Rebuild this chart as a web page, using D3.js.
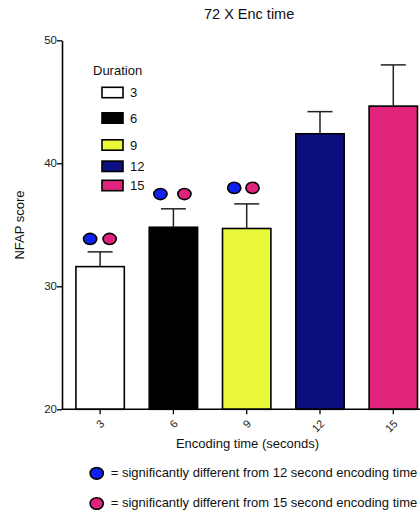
<!DOCTYPE html>
<html>
<head>
<meta charset="utf-8">
<script src="https://cdn.jsdelivr.net/npm/d3@7"></script>
<style>
  html, body { margin: 0; padding: 0; background: #fff; }
  svg { display: block; font-family: "Liberation Sans", Arial, Helvetica, sans-serif; }
</style>
</head>
<body>
<svg id="chart" width="420" height="516"></svg>
<script>
// ---- data ----
const categories = ["3", "6", "9", "12", "15"];
const means = [31.6, 34.8, 34.7, 42.4, 44.65];
const errorTops = [32.8, 36.3, 36.7, 44.2, 48.0];
const barColors = ["#ffffff", "#000000", "#e9f93a", "#0b0f80", "#e0237b"];
const yTicks = [20, 30, 40, 50];
const legendTitle = "Duration";
const sigCategories = ["3", "6", "9"];
const sigMarkerValues = [33.85, 37.5, 38.0];
const sigColors = ["#1020f0", "#e0237b"];
const sigLabels = ["= significantly different from 12 second encoding time",
                   "= significantly different from 15 second encoding time"];

const svg = d3.select("#chart");
const W = 420, H = 516;

const y = d3.scaleLinear().domain([20, 50]).range([409.3, 40.3]);
const x = d3.scaleBand().domain(categories).range([62, 431.4])
  .paddingInner(0.34).paddingOuter(0.19);

// title
svg.append("text").attr("x", 204).attr("y", 19)
  .attr("font-size", 14.5).attr("fill", "#111").text("72 X Enc time");

// bars
svg.append("g").selectAll("rect").data(categories).join("rect")
  .attr("x", d => x(d))
  .attr("y", (d, i) => y(means[i]))
  .attr("width", x.bandwidth())
  .attr("height", (d, i) => y(20) - y(means[i]))
  .attr("fill", (d, i) => barColors[i])
  .attr("stroke", "#000").attr("stroke-width", 1.6);

// error bars
const eb = svg.append("g").attr("stroke", "#222").attr("stroke-width", 1.5);
eb.selectAll("line.v").data(categories).join("line").attr("class", "v")
  .attr("x1", d => x(d) + x.bandwidth() / 2).attr("x2", d => x(d) + x.bandwidth() / 2)
  .attr("y1", (d, i) => y(means[i])).attr("y2", (d, i) => y(errorTops[i]));
eb.selectAll("line.c").data(categories).join("line").attr("class", "c")
  .attr("x1", d => x(d) + x.bandwidth() / 2 - 12.5).attr("x2", d => x(d) + x.bandwidth() / 2 + 12.5)
  .attr("y1", (d, i) => y(errorTops[i])).attr("y2", (d, i) => y(errorTops[i]));

// y axis
const yAxis = svg.append("g").attr("transform", "translate(62,0)")
  .call(d3.axisLeft(y).tickValues(yTicks).tickSize(5).tickSizeOuter(0).tickFormat(d3.format("d")));
yAxis.select(".domain").attr("stroke", "#000").attr("stroke-width", 1.6);
yAxis.selectAll(".tick line").attr("stroke", "#000").attr("stroke-width", 1.3);
yAxis.selectAll(".tick text").attr("font-size", 11.5).attr("fill", "#222")
  .attr("font-family", "Liberation Sans, Arial, sans-serif").attr("x", -5);

// x axis
const xAxis = svg.append("g").attr("transform", "translate(0,409.3)")
  .call(d3.axisBottom(x).tickSize(5).tickSizeOuter(0));
xAxis.select(".domain").attr("d", "M62,0H420").attr("stroke", "#000").attr("stroke-width", 1.6);
xAxis.selectAll(".tick line").attr("stroke", "#000").attr("stroke-width", 1.3);
xAxis.selectAll(".tick text")
  .attr("font-size", 11).attr("fill", "#222")
  .attr("font-family", "Liberation Sans, Arial, sans-serif")
  .attr("text-anchor", "end").attr("dy", null)
  .attr("transform", "translate(3,13) rotate(-45)")
  .attr("x", 0).attr("y", 0).attr("dominant-baseline", "middle");

// axis titles
svg.append("text").attr("transform", "translate(23.5,225) rotate(-90)")
  .attr("text-anchor", "middle").attr("font-size", 13).attr("fill", "#111").text("NFAP score");
svg.append("text").attr("x", 247.5).attr("y", 447.5)
  .attr("text-anchor", "middle").attr("font-size", 13).attr("fill", "#111").text("Encoding time (seconds)");

// legend
const legendItemY = [92.5, 118, 145, 166.3, 185.5];
svg.append("text").attr("x", 93).attr("y", 75).attr("font-size", 13).attr("fill", "#111").text(legendTitle);
const lg = svg.append("g");
lg.selectAll("rect").data(categories).join("rect")
  .attr("x", 102).attr("y", (d, i) => legendItemY[i] - 5.2)
  .attr("width", 21).attr("height", 10.4)
  .attr("fill", (d, i) => barColors[i]).attr("stroke", "#000").attr("stroke-width", 1.6);
lg.selectAll("text").data(categories).join("text")
  .attr("x", 130).attr("y", (d, i) => legendItemY[i] + 4.7)
  .attr("font-size", 13).attr("fill", "#111").text(d => d);

// significance markers
const sigOffsets = [[-10, 9.5], [-13, 11], [-12.5, 5.8]];
const sg = svg.append("g");
sigCategories.forEach((c, i) => {
  sigColors.forEach((col, j) => {
    sg.append("ellipse")
      .attr("cx", x(c) + x.bandwidth() / 2 + sigOffsets[i][j])
      .attr("cy", y(sigMarkerValues[i]))
      .attr("rx", 6.6).attr("ry", 5.6)
      .attr("fill", col).attr("stroke", "#000").attr("stroke-width", 1.6);
  });
});

// bottom key
const keyY = [473.3, 503.5];
sigLabels.forEach((t, i) => {
  svg.append("ellipse").attr("cx", 96.7).attr("cy", keyY[i]).attr("rx", 6.6).attr("ry", 5.8)
    .attr("fill", sigColors[i]).attr("stroke", "#000").attr("stroke-width", 1.6);
  svg.append("text").attr("x", 110.7).attr("y", keyY[i] + 3.2)
    .attr("font-size", 13.0).attr("fill", "#111").text(t);
});
</script>
</body>
</html>
